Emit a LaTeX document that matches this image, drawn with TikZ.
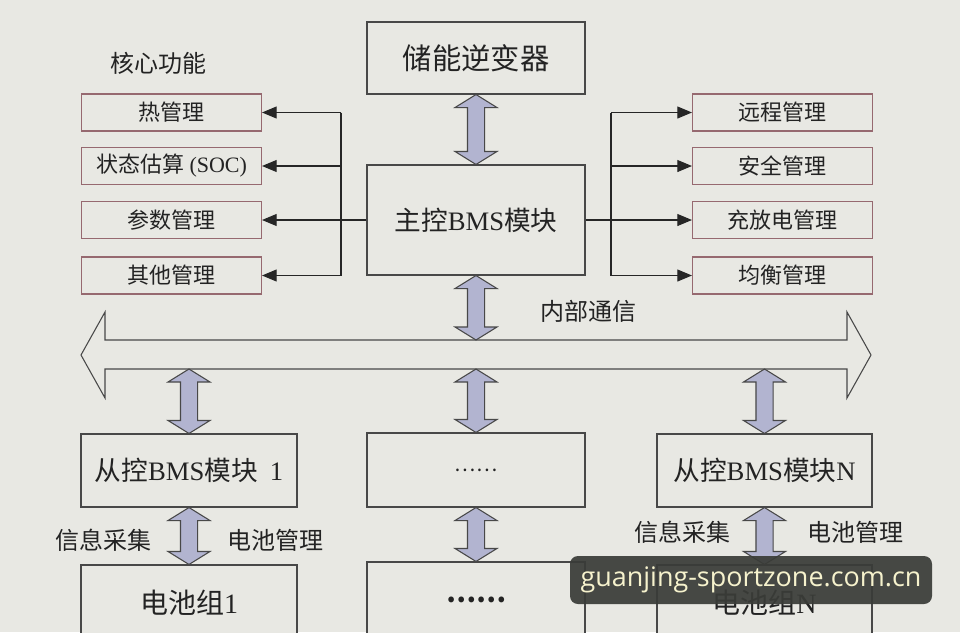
\documentclass[tikz,border=0pt]{standalone}
\usepackage{fontspec}
\setmainfont{Liberation Serif}
\newfontfamily\cjk{Noto Sans CJK SC}
\newfontfamily\wmfont{Open Sans}
\usetikzlibrary{arrows.meta,calc}
\definecolor{bg}{RGB}{232,232,227}
\definecolor{ln}{RGB}{72,72,72}
\definecolor{pk}{RGB}{150,105,112}
\definecolor{fatc}{RGB}{178,180,208}
\definecolor{txt}{RGB}{35,35,35}
\definecolor{wmbg}{RGB}{58,60,56}
\definecolor{wmtx}{RGB}{246,242,205}
\tikzset{
 box/.style={draw=ln, line width=0.8pt, fill=bg, text=txt, font=\cjk\fontsize{20}{24}\selectfont, inner sep=0pt},
 sbox/.style={draw=pk, line width=0.8pt, text=txt, font=\cjk\fontsize{16.5}{19}\selectfont, minimum width=135pt, minimum height=27.75pt, inner sep=0pt},
 lbl/.style={text=txt, font=\cjk\fontsize{18}{21}\selectfont, inner sep=0pt},
 conn/.style={draw=black!85, line width=0.8pt},
 arr/.style={conn, -{Triangle[length=11pt,width=9pt]}},
 fatarrow/.style={draw=ln, line width=0.8pt, fill=fatc},
}
\newcommand\fatdbl[2]{\draw[fatarrow] let \p1=(#1), \p2=(#2) in
 (\x1,\y1) -- (\x1+15.75pt,\y1-9.75pt) -- (\x1+6.4pt,\y1-9.75pt) -- (\x1+6.4pt,\y2+9.75pt) -- (\x1+15.75pt,\y2+9.75pt) -- (\x1,\y2) -- (\x1-15.75pt,\y2+9.75pt) -- (\x1-6.4pt,\y2+9.75pt) -- (\x1-6.4pt,\y1-9.75pt) -- (\x1-15.75pt,\y1-9.75pt) -- cycle;}
\begin{document}
\begin{tikzpicture}[x=0.75pt,y=-0.75pt]
\useasboundingbox (0,0) rectangle (960,632);
\fill[bg] (0,0) rectangle (960,632);
\begin{scope}
\clip (0,0) rectangle (960,632);
% top boxes
\node[box, font=\cjk\fontsize{22}{26}\selectfont, minimum width=163.5pt, minimum height=54pt] (inv) at (476,58) {储能逆变器};
\node[box, font=\cjk\fontsize{20}{24}\selectfont, minimum width=163.5pt, minimum height=82.5pt] (main) at (476,220) {主控{\rmfamily BMS}模块};
% left function boxes
\node[lbl] (core) at (158,63) {核心功能};
\node[sbox] (heat) at (171.5,112.5) {热管理};
\node[sbox] (soc) at (171.5,166) {状态估算{\rmfamily\ (SOC)}};
\node[sbox] (para) at (171.5,220) {参数管理};
\node[sbox] (other) at (171.5,275.5) {其他管理};
% right function boxes
\node[sbox] (remote) at (782.5,112.5) {远程管理};
\node[sbox] (safe) at (782.5,166) {安全管理};
\node[sbox] (charge) at (782.5,220) {充放电管理};
\node[sbox] (bal) at (782.5,275.5) {均衡管理};
% left tree
\coordinate (lj) at (341,220);
\coordinate (rj) at (611,220);
\draw[conn] (main.west) -- (lj);
\draw[conn] (lj |- heat.east) -- (lj |- other.east);
\foreach \n in {heat,soc,para,other} \draw[arr] (lj |- \n.east) -- (\n.east);
\draw[conn] (main.east) -- (rj);
\draw[conn] (rj |- remote.west) -- (rj |- bal.west);
\foreach \n in {remote,safe,charge,bal} \draw[arr] (rj |- \n.west) -- (\n.west);
% bus
\coordinate (bustop) at (476,340);
\coordinate (busbot) at (476,369);
\draw[draw=ln, line width=0.8pt, fill=bg] (81,355) -- (105,312) -- (105,340) -- (847,340) -- (847,312) -- (871,355) -- (847,398) -- (847,369) -- (105,369) -- (105,398) -- cycle;
\node[lbl] (comm) at (588,311) {内部通信};
% slave boxes
\node[box, minimum width=162pt, minimum height=54.75pt] (s1) at (189,470.5) {从控{\rmfamily BMS}模块\ \ {\rmfamily 1}};
\node[box, minimum width=163.5pt, minimum height=55.5pt, font=\cjk\fontsize{15}{18}\selectfont] (sm) at (476,470) {……};
\node[box, minimum width=161.25pt, minimum height=54.75pt] (sn) at (764.5,470.5) {从控{\rmfamily BMS}模块{\rmfamily N}};
% battery boxes
\node[box, font=\cjk\fontsize{21}{24}\selectfont, minimum width=162pt, minimum height=57pt] (b1) at (189,603) {电池组{\rmfamily 1}};
\node[box, minimum width=163.5pt, minimum height=57pt, font=\cjk\bfseries\fontsize{20}{24}\selectfont] (bm) at (476,600) {……};
\node[box, font=\cjk\fontsize{21}{24}\selectfont, minimum width=161.25pt, minimum height=57pt] (bn) at (764.5,603) {电池组{\rmfamily N}};
% labels
\node[lbl] (i1) at (103,540) {信息采集};
\node[lbl] (m1) at (275,540) {电池管理};
\node[lbl] (in) at (682,532) {信息采集};
\node[lbl] (mn) at (855,532) {电池管理};
% fat arrows
\fatdbl{inv.south}{main.north}
\fatdbl{main.south}{bustop}
\fatdbl{s1.north |- busbot}{s1.north}
\fatdbl{busbot}{sm.north}
\fatdbl{sn.north |- busbot}{sn.north}
\fatdbl{s1.south}{b1.north}
\fatdbl{sm.south}{bm.north}
\fatdbl{sn.south}{bn.north}
% watermark
\node[fill=wmbg, fill opacity=0.93, text opacity=1, rounded corners=6pt, minimum width=271.5pt, minimum height=36pt, inner sep=0pt, text=wmtx, font=\wmfont\fontsize{20.2}{23}\selectfont] (wm) at (751,580) {guanjing-sportzone.com.cn};
\end{scope}
\end{tikzpicture}
\end{document}
